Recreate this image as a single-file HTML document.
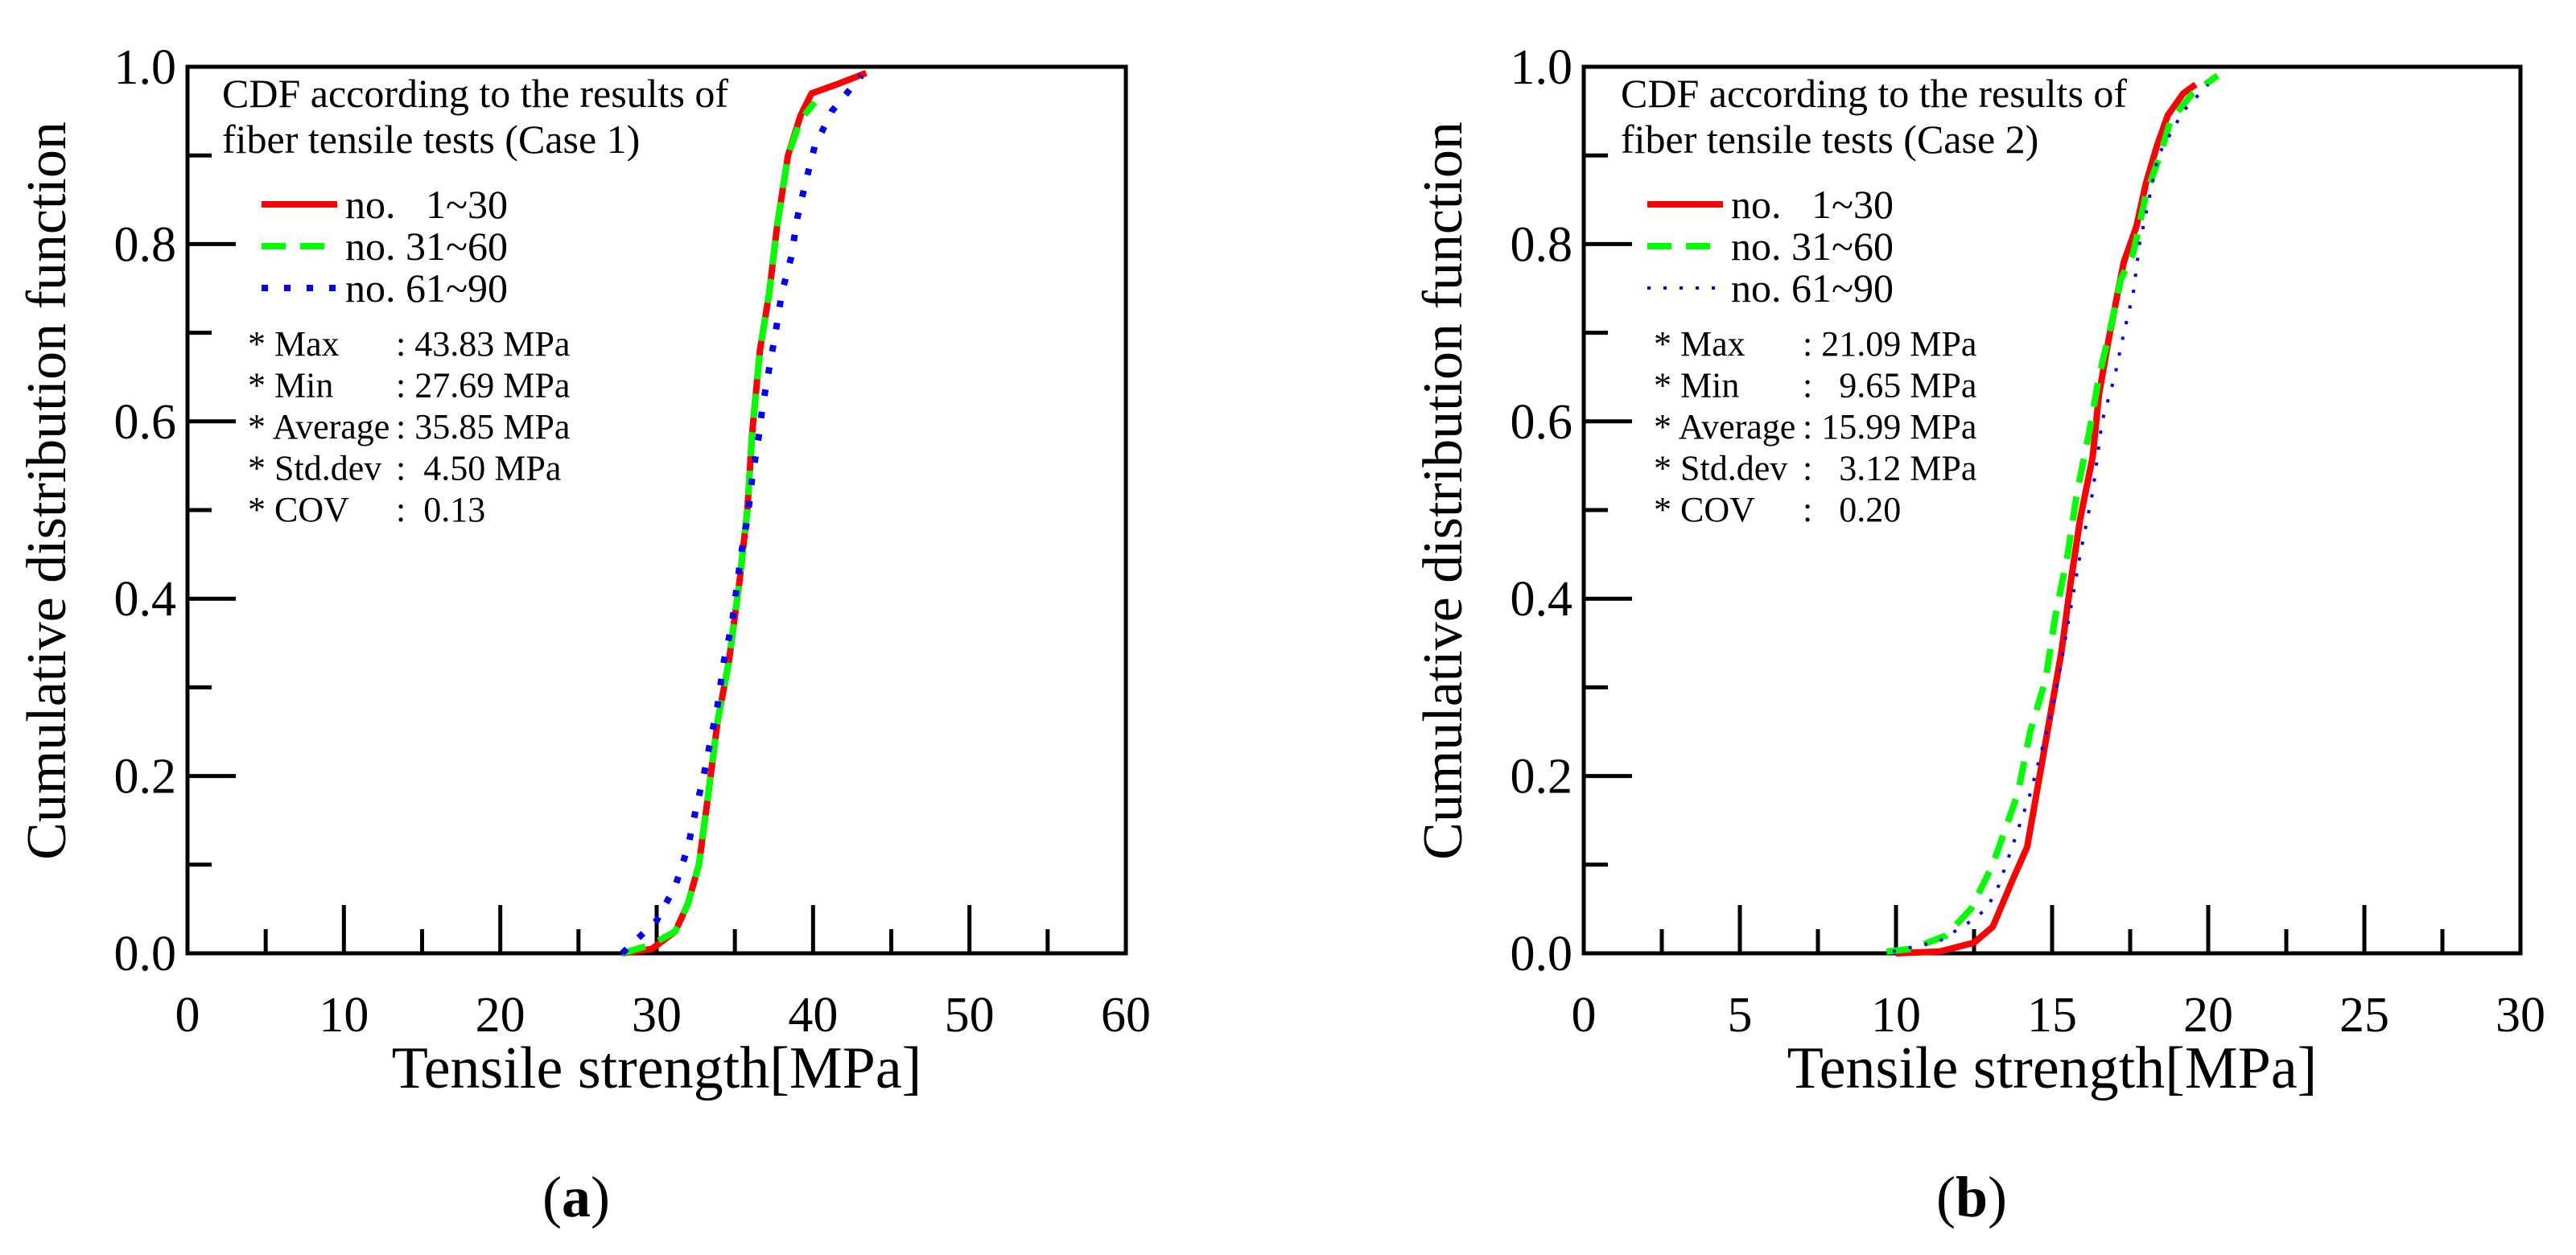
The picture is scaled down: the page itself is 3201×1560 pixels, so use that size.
<!DOCTYPE html>
<html><head><meta charset="utf-8"><style>
html,body{margin:0;padding:0;background:#fff}
svg{display:block}
text{font-family:"Liberation Serif",serif;fill:#000}
</style></head><body>
<svg id="fig" width="3201" height="1560" viewBox="0 0 3201 1560"></svg>
<script>
// ---- data: panel (a)
const aRedX=[27.8,29.7,31.2,32.0,32.7,33.2,33.9,34.6,35.3,35.8,36.1,36.6,37.2,37.7,38.4,39.2,39.9,41.5,43.4];
const aRedY=[0,0.005,0.025,0.056,0.10,0.166,0.262,0.327,0.42,0.50,0.585,0.68,0.745,0.82,0.90,0.945,0.97,0.98,0.993];
const aGreenX=[27.8,29.7,31.2,32.0,32.7,33.2,33.9,34.6,35.3,35.8,36.1,36.6,37.2,37.7,38.4,39.2,40.1];
const aGreenY=[0,0.01,0.025,0.056,0.10,0.166,0.262,0.327,0.42,0.50,0.585,0.68,0.745,0.82,0.90,0.94,0.96];
const aBlueX=[27.8,30.0,31.2,32.0,32.5,33.0,33.5,33.9,34.3,34.8,35.4,35.8,36.1,36.5,36.8,37.2,37.6,38.0,38.6,39.0,39.5,40.1,41.2,43.1];
const aBlueY=[0,0.037,0.076,0.12,0.162,0.2,0.245,0.28,0.33,0.37,0.45,0.49,0.535,0.58,0.62,0.66,0.70,0.745,0.785,0.83,0.868,0.91,0.95,0.99];
// ---- data: panel (b)
const bRedX=[10.0,11.4,12.5,13.1,13.7,14.2,14.6,14.9,15.3,15.6,15.9,16.3,16.5,16.8,17.1,17.3,17.7,18.0,18.35,18.7,19.2,19.6];
const bRedY=[0,0.002,0.012,0.03,0.08,0.12,0.2,0.26,0.34,0.42,0.49,0.56,0.63,0.69,0.745,0.78,0.82,0.868,0.91,0.945,0.97,0.98];
const bGreenX=[9.7,10.5,11.6,12.4,13.1,13.9,14.3,14.8,15.1,15.5,15.8,16.2,16.5,16.9,17.2,17.6,18.0,18.5,18.8,19.5,20.3];
const bGreenY=[0.002,0.005,0.02,0.05,0.10,0.18,0.25,0.31,0.38,0.45,0.52,0.59,0.65,0.71,0.76,0.79,0.855,0.905,0.94,0.97,0.99];
const bBlueX=[9.9,11.4,12.3,12.9,13.3,13.8,14.3,14.9,15.2,15.6,15.9,16.3,16.6,17.0,17.3,17.6,17.8,18.1,18.4,18.8,19.2,20.0];
const bBlueY=[0.002,0.014,0.034,0.05,0.077,0.128,0.18,0.26,0.31,0.39,0.45,0.52,0.6,0.65,0.70,0.745,0.8,0.85,0.9,0.925,0.95,0.98];
const aXTicks=[0,10,20,30,40,50,60];
const bXTicks=[0,5,10,15,20,25,30];
const yTicks=["0.0","0.2","0.4","0.6","0.8","1.0"];
const aStats=[["* Max",": 43.83 MPa"],["* Min",": 27.69 MPa"],["* Average",": 35.85 MPa"],["* Std.dev",":  4.50 MPa"],["* COV",":  0.13"]];
const bStats=[["* Max",": 21.09 MPa"],["* Min",":   9.65 MPa"],["* Average",": 15.99 MPa"],["* Std.dev",":   3.12 MPa"],["* COV",":   0.20"]];
const legendLabels=["no.   1~30","no. 31~60","no. 61~90"];

const NS="http://www.w3.org/2000/svg";
const svg=document.getElementById('fig');
function el(tag,attrs,parent,txt){const e=document.createElementNS(NS,tag);for(const k in attrs)e.setAttribute(k,attrs[k]);if(tag==='text'){e.setAttribute('font-family','Liberation Serif, serif');e.style.whiteSpace='pre';}if(txt!==undefined)e.textContent=txt;(parent||svg).appendChild(e);return e;}

function panel(o){
  const g=el('g',{});
  
  
  const L=o.left,R=o.right,T=83,B=1185;
  const sx=v=>L+v/o.xmax*(R-L);
  const sy=v=>B-v*(B-T);
  const fr=el('rect',{x:L,y:T,width:R-L,height:B-T,fill:'none',stroke:'#000','stroke-width':5},g);
  
  
  const step=o.xTicks[1]-o.xTicks[0];
  for(let i=0;i<o.xTicks.length;i++){
    const v=o.xTicks[i];
    if(i>0&&i<o.xTicks.length-1){const t=el('line',{x1:sx(v),x2:sx(v),y1:B,y2:B-60,stroke:'#000','stroke-width':5},g);
      }
    if(i<o.xTicks.length-1){const mv=v+step/2;const t=el('line',{x1:sx(mv),x2:sx(mv),y1:B,y2:B-30,stroke:'#000','stroke-width':5},g);
      }
    const lb=el('text',{x:sx(v),y:1282,'font-size':62,'text-anchor':'middle'},g,String(v));
    
    
  }
  for(let i=0;i<yTicks.length;i++){
    const v=parseFloat(yTicks[i]);
    if(i>0&&i<yTicks.length-1){const t=el('line',{x1:L,x2:L+60,y1:sy(v),y2:sy(v),stroke:'#000','stroke-width':5},g);
      }
    if(i<yTicks.length-1){const t=el('line',{x1:L,x2:L+30,y1:sy(v+0.1),y2:sy(v+0.1),stroke:'#000','stroke-width':5},g);
      }
    const lb=el('text',{x:L-14,y:sy(v)+21,'font-size':62,'text-anchor':'end'},g,yTicks[i]);
    
    
  }
  const xt=el('text',{x:(L+R)/2,y:1352,'font-size':74,'text-anchor':'middle'},g,'Tensile strength[MPa]');
  
  const yx=L-152;
  const yt=el('text',{x:yx,y:610,'font-size':70,'text-anchor':'middle',transform:`rotate(-90 ${yx} 610)`},g,'Cumulative distribution function');
  
  const cap=el('text',{x:(L+R)/2-100,y:1512,'font-size':72,'text-anchor':'middle'},g);
  el('tspan',{},cap,'(');el('tspan',{'font-weight':'bold'},cap,o.id);el('tspan',{},cap,')');
  
  const a1=el('text',{x:o.annoX,y:133,'font-size':50},g,'CDF according to the results of');
  
  const a2=el('text',{x:o.annoX,y:190,'font-size':50},g,'fiber tensile tests (Case '+o.case+')');
  
  const series=[
    {x:o.rx,y:o.ry,c:'#ff0000',w:8,d:'none'},
    {x:o.gx,y:o.gy,c:'#00ff00',w:8,d:'30 18'},
    {x:o.bx,y:o.by,c:'#0000ff',w:o.blueW,d:o.blueDash}];
  const names=['series-1-30','series-31-60','series-61-90'];
  series.forEach((s,k)=>{
    const pts=s.x.map((v,i)=>sx(v).toFixed(1)+','+sy(s.y[i]).toFixed(1)).join(' ');
    const p=el('polyline',{points:pts,fill:'none',stroke:s.c,'stroke-width':s.w,'stroke-dasharray':s.d,'stroke-linejoin':'round'},g);
    
    
    const ly=[251,303,355][k]+3;
    const ll=el('line',{x1:o.legX1,x2:o.legX2,y1:ly,y2:ly,stroke:s.c,'stroke-width':s.w,'stroke-dasharray':s.d},g);
    
    
    const lt=el('text',{x:o.legX2+10,y:ly+17,'font-size':50},g,legendLabels[k]);
    
    
  });
  o.stats.forEach((s,i)=>{
    const y=442+i*51.5;
    const t1=el('text',{x:o.statX,y:y,'font-size':44},g,s[0]);
    
    const t2=el('text',{x:o.colonX,y:y,'font-size':44},g,s[1]);
    
  });
}
panel({id:'a',case:1,left:233,right:1399,xmax:60,xTicks:aXTicks,annoX:276,legX1:325,legX2:419,statX:308,colonX:492,
  rx:aRedX,ry:aRedY,gx:aGreenX,gy:aGreenY,bx:aBlueX,by:aBlueY,blueW:8,blueDash:'8 20',stats:aStats});
panel({id:'b',case:2,left:1968,right:3132,xmax:30,xTicks:bXTicks,annoX:2014,legX1:2047,legX2:2141,statX:2055,colonX:2240,
  rx:bRedX,ry:bRedY,gx:bGreenX,gy:bGreenY,bx:bBlueX,by:bBlueY,blueW:4,blueDash:'4 16',stats:bStats});
</script>
</body></html>
